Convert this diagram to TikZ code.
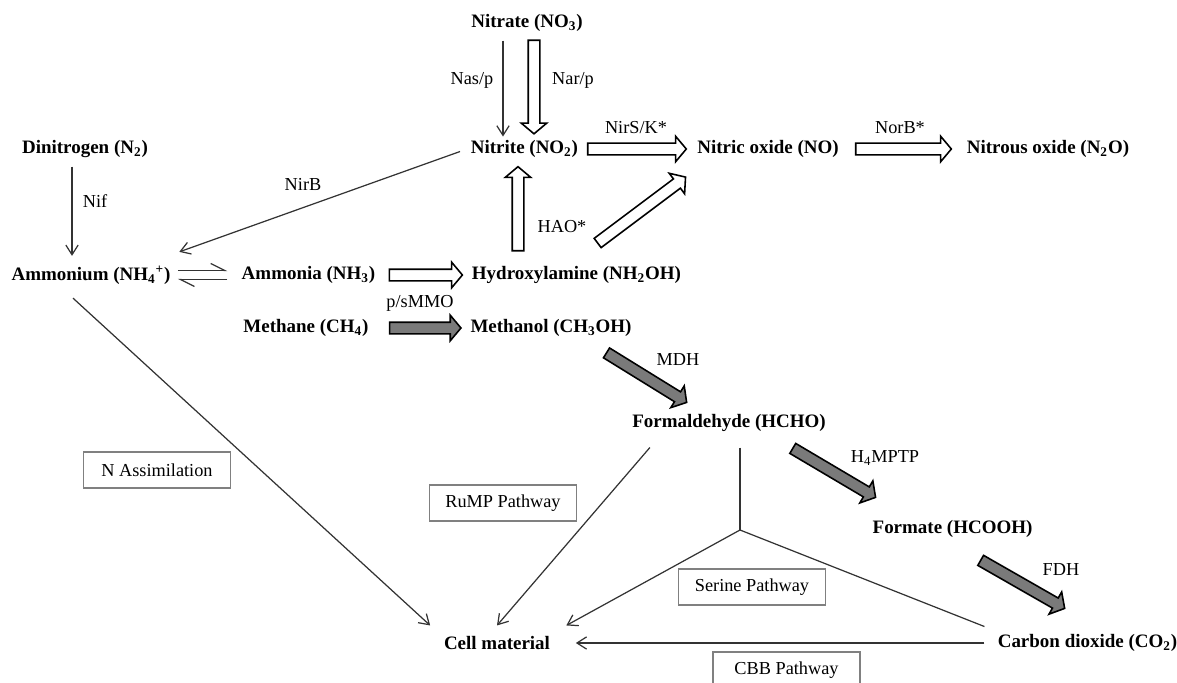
\documentclass[tikz,border=0pt]{standalone}
\usepackage{fontspec}
\setmainfont{Liberation Serif}
\usepackage{tikz}
\usetikzlibrary{positioning,calc,arrows.meta,shapes.arrows}

\tikzset{
  chem/.style = {font=\fontsize{10.8}{13}\selectfont\bfseries, inner sep=2pt},
  enz/.style = {font=\fontsize{10.4}{12}\selectfont, inner sep=1pt},
  pathway/.style = {draw=black!50, line width=0.8pt, font=\fontsize{10.4}{12}\selectfont, minimum width=2.94cm, minimum height=0.72cm},
  link/.style = {draw=black!80, line width=0.7pt},
  thinarrow/.style = {link, -{Straight Barb[length=5.5pt,width=7pt]}},
  eqharp/.style = {link, -{Straight Barb[left,length=8pt,width=8pt]}},
  hollowarrow/.style = {single arrow, draw=black, fill=white, line width=0.9pt, inner xsep=0pt, inner ysep=0.1cm, minimum width=0.48cm, single arrow head extend=0.14cm, single arrow tip angle=100},
  greyarrow/.style = {hollowarrow, fill=black!52}
}

% fat arrow from #2 to #3
\newcommand{\fatarrow}[3]{%
  \path (#2) coordinate (faA) (#3) coordinate (faB);
  \path let \p1=($(faB)-(faA)$), \n1={veclen(\x1,\y1)}, \n2={atan2(\y1,\x1)} in
    node[#1, anchor=tail, rotate=\n2, minimum height=\n1] at (faA) {};}

\begin{document}
\begin{tikzpicture}

\useasboundingbox (0,0) rectangle (23.54,13.64);

% compounds
\node[chem] (nitrate) at (10.54,13.18) {Nitrate (NO\textsubscript{3})};
\node[chem] (nitrite) at (10.49,10.66) {Nitrite (NO\textsubscript{2})};
\node[chem] (nitric) at (15.36,10.66) {Nitric oxide (NO)};
\node[chem] (nitrous) at (20.96,10.66) {Nitrous oxide (N\textsubscript{2}O)};
\node[chem] (dinitrogen) at (1.70,10.66) {Dinitrogen (N\textsubscript{2})};
\node[chem] (ammonium) at (1.82,8.14) {Ammonium (NH\textsubscript{4}\textsuperscript{+})};
\node[chem] (ammonia) at (6.17,8.14) {Ammonia (NH\textsubscript{3})};
\node[chem] (hydroxylamine) at (11.53,8.14) {Hydroxylamine (NH\textsubscript{2}OH)};
\node[chem] (methane) at (6.12,7.08) {Methane (CH\textsubscript{4})};
\node[chem] (methanol) at (11.02,7.08) {Methanol (CH\textsubscript{3}OH)};
\node[chem] (formaldehyde) at (14.58,5.18) {Formaldehyde (HCHO)};
\node[chem] (formate) at (19.05,3.06) {Formate (HCOOH)};
\node[chem] (co2) at (21.75,0.78) {Carbon dioxide (CO\textsubscript{2})};
\node[chem] (cell) at (9.94,0.78) {Cell material};

% enzymes
\node[enz] (nas) at (9.44,12.04) {Nas/p};
\node[enz] (nar) at (11.46,12.04) {Nar/p};
\node[enz] (nirs) at (12.72,11.08) {NirS/K*};
\node[enz] (norb) at (18.00,11.08) {NorB*};
\node[enz] (nif) at (1.90,9.62) {Nif};
\node[enz] (nirb) at (6.06,9.96) {NirB};
\node[enz] (hao) at (11.24,9.10) {HAO*};
\node[enz] (mmo) at (8.40,7.58) {p/sMMO};
\node[enz] (mdh) at (13.56,6.44) {MDH};
\node[enz] (mptp) at (17.70,4.48) {H\textsubscript{4}MPTP};
\node[enz] (fdh) at (21.22,2.24) {FDH};

% pathways
\node[pathway] (nassim) at (3.14,4.24) {N Assimilation};
\node[pathway] (rump) at (10.06,3.58) {RuMP Pathway};
\node[pathway] (serine) at (15.04,1.90) {Serine Pathway};
\node[pathway] (cbb) at (15.73,0.24) {CBB Pathway};

%%%%%%%%%%%%%%%%%%%%%%%%%%%%%%%%

\draw[thinarrow, shorten <=3pt] ([xshift=-0.48cm]nitrate.south) -- ([xshift=-0.48cm]nitrate.south |- nitrite.north);
\fatarrow{hollowarrow}{[shift={(0.14,-0.08)}]nitrate.south}{[shift={(0.14,0.07)}]nitrate.south |- nitrite.north}

\fatarrow{hollowarrow}{[xshift=0.1cm]nitrite.east}{[xshift=-0.16cm]nitric.west}
\fatarrow{hollowarrow}{[xshift=0.25cm]nitric.east}{[xshift=-0.25cm]nitrous.west}

\draw[thinarrow, shorten <=0.1cm, shorten >=0.12cm] ([xshift=-0.26cm]dinitrogen.south) -- ([xshift=-0.26cm]dinitrogen.south |- ammonium.north);
\draw[thinarrow, shorten <=0.15cm] (nitrite.west) -- ([shift={(0.1,0.2)}]ammonium.north east);

\draw[eqharp, shorten <=0.07cm, shorten >=0.21cm] ([yshift=0.09cm]ammonium.east) -- ([yshift=0.09cm]ammonium.east -| ammonia.west);
\draw[eqharp, shorten <=0.21cm, shorten >=0.07cm] ([yshift=-0.09cm]ammonium.east -| ammonia.west) -- ([yshift=-0.09cm]ammonium.east);

\fatarrow{hollowarrow}{[xshift=0.19cm]ammonia.east}{[xshift=-0.13cm]hydroxylamine.west}
\fatarrow{hollowarrow}{[shift={(-0.13,0.22)}]nitrite.south |- hydroxylamine.north}{[shift={(-0.13,-0.12)}]nitrite.south}
\fatarrow{hollowarrow}{[shift={(-1.93,-1.64)}]nitric.south west}{[shift={(-0.17,-0.32)}]nitric.south west}

%%%%%%%%%%%%%%%%%%%%%%%%%%%%%%%%

\fatarrow{greyarrow}{[xshift=0.33cm]methane.east}{[xshift=-0.13cm]methanol.west}
\fatarrow{greyarrow}{[shift={(-0.59,-0.24)}]methanol.south east}{[shift={(-0.86,0.17)}]formaldehyde.north}
\fatarrow{greyarrow}{[shift={(-0.75,-0.25)}]formaldehyde.south east}{[shift={(-1.55,0.39)}]formate.north}
\fatarrow{greyarrow}{[shift={(0.55,-0.37)}]formate.south}{[shift={(-0.47,0.45)}]co2.north}

%%%%%%%%%%%%%%%%%%%%%%%%%%%%%%%%

\coordinate (fork) at (14.80,3.04);

\draw[thinarrow] ([shift={(-0.36,-0.2)}]ammonium.south) -- ([shift={(-0.2,0.14)}]cell.north west);
\draw[thinarrow] ([shift={(0.43,-0.24)}]formaldehyde.south west) -- ([yshift=0.14cm]cell.north);
\draw[link] ([shift={(0.22,-0.24)}]formaldehyde.south) -- (fork);
\draw[thinarrow] (fork) -- ([shift={(0.25,0.14)}]cell.north east);
\draw[link] (fork) -- ([shift={(-0.19,0.08)}]co2.north west);
\draw[thinarrow] ([xshift=-0.19cm]co2.west) -- ([xshift=0.44cm]cell.east);

\end{tikzpicture}
\end{document}
